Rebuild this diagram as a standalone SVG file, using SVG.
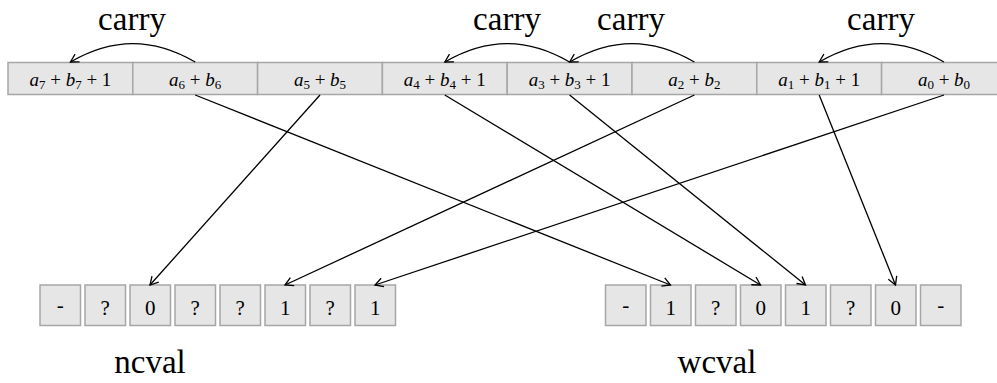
<svg xmlns="http://www.w3.org/2000/svg" width="997" height="383" viewBox="0 0 997 383">
<style>
.cell{fill:#e6e6e6;stroke:#a6a6a6;stroke-width:1.5}
text{font-family:"Liberation Serif","DejaVu Serif","Noto Serif",serif;fill:#000}
.m{font-size:19px;text-anchor:middle}
.i{font-style:italic}
.s{font-size:13px}
.big{font-size:33px;text-anchor:middle}
.bx{font-size:21px;text-anchor:middle}
.c{fill:none;stroke:#000;stroke-width:1.3}
</style>
<defs>
<marker id="ar" markerUnits="userSpaceOnUse" markerWidth="20" markerHeight="20" refX="0" refY="0" viewBox="-10 -10 20 20" orient="auto">
<path d="M-8,-4.5 L0,0 L-8,4.5" fill="none" stroke="#000" stroke-width="1.3"/>
</marker>
</defs>
<g id="labels">
<text class="big" x="132" y="30">carry</text>
<text class="big" x="507" y="30">carry</text>
<text class="big" x="631" y="30">carry</text>
<text class="big" x="881" y="30">carry</text>
<text class="big" x="150" y="373">ncval</text>
<text class="big" x="717" y="373">wcval</text>
</g>
<g id="row">
<g id="s7"><rect class="cell" x="8" y="62.5" width="124.8" height="32"/><text class="m" x="70.4" y="86"><tspan class="i">a</tspan><tspan class="s" dy="3">7</tspan><tspan dy="-3"> + </tspan><tspan class="i">b</tspan><tspan class="s" dy="3">7</tspan><tspan dy="-3"> + 1</tspan></text></g>
<g id="s6"><rect class="cell" x="132.8" y="62.5" width="124.8" height="32"/><text class="m" x="195.2" y="86"><tspan class="i">a</tspan><tspan class="s" dy="3">6</tspan><tspan dy="-3"> + </tspan><tspan class="i">b</tspan><tspan class="s" dy="3">6</tspan></text></g>
<g id="s5"><rect class="cell" x="257.6" y="62.5" width="124.8" height="32"/><text class="m" x="320" y="86"><tspan class="i">a</tspan><tspan class="s" dy="3">5</tspan><tspan dy="-3"> + </tspan><tspan class="i">b</tspan><tspan class="s" dy="3">5</tspan></text></g>
<g id="s4"><rect class="cell" x="382.4" y="62.5" width="124.8" height="32"/><text class="m" x="444.8" y="86"><tspan class="i">a</tspan><tspan class="s" dy="3">4</tspan><tspan dy="-3"> + </tspan><tspan class="i">b</tspan><tspan class="s" dy="3">4</tspan><tspan dy="-3"> + 1</tspan></text></g>
<g id="s3"><rect class="cell" x="507.2" y="62.5" width="124.8" height="32"/><text class="m" x="569.6" y="86"><tspan class="i">a</tspan><tspan class="s" dy="3">3</tspan><tspan dy="-3"> + </tspan><tspan class="i">b</tspan><tspan class="s" dy="3">3</tspan><tspan dy="-3"> + 1</tspan></text></g>
<g id="s2"><rect class="cell" x="632" y="62.5" width="124.8" height="32"/><text class="m" x="694.4" y="86"><tspan class="i">a</tspan><tspan class="s" dy="3">2</tspan><tspan dy="-3"> + </tspan><tspan class="i">b</tspan><tspan class="s" dy="3">2</tspan></text></g>
<g id="s1"><rect class="cell" x="756.8" y="62.5" width="124.8" height="32"/><text class="m" x="819.2" y="86"><tspan class="i">a</tspan><tspan class="s" dy="3">1</tspan><tspan dy="-3"> + </tspan><tspan class="i">b</tspan><tspan class="s" dy="3">1</tspan><tspan dy="-3"> + 1</tspan></text></g>
<g id="s0"><rect class="cell" x="881.6" y="62.5" width="124.8" height="32"/><text class="m" x="944" y="86"><tspan class="i">a</tspan><tspan class="s" dy="3">0</tspan><tspan dy="-3"> + </tspan><tspan class="i">b</tspan><tspan class="s" dy="3">0</tspan></text></g>
</g>
<g id="ncval">
<g id="n0"><rect class="cell" x="40" y="285" width="40.5" height="40.5"/><text class="bx" x="60.2" y="312">-</text></g>
<g id="n1"><rect class="cell" x="85" y="285" width="40.5" height="40.5"/><text class="bx" x="105.2" y="315">?</text></g>
<g id="n2"><rect class="cell" x="130" y="285" width="40.5" height="40.5"/><text class="bx" x="150.2" y="315">0</text></g>
<g id="n3"><rect class="cell" x="175" y="285" width="40.5" height="40.5"/><text class="bx" x="195.2" y="315">?</text></g>
<g id="n4"><rect class="cell" x="220" y="285" width="40.5" height="40.5"/><text class="bx" x="240.2" y="315">?</text></g>
<g id="n5"><rect class="cell" x="265" y="285" width="40.5" height="40.5"/><text class="bx" x="285.2" y="315">1</text></g>
<g id="n6"><rect class="cell" x="310" y="285" width="40.5" height="40.5"/><text class="bx" x="330.2" y="315">?</text></g>
<g id="n7"><rect class="cell" x="355" y="285" width="40.5" height="40.5"/><text class="bx" x="375.2" y="315">1</text></g>
</g>
<g id="wcval">
<g id="w0"><rect class="cell" x="605.5" y="285" width="40.5" height="40.5"/><text class="bx" x="625.7" y="312">-</text></g>
<g id="w1"><rect class="cell" x="650.5" y="285" width="40.5" height="40.5"/><text class="bx" x="670.7" y="315">1</text></g>
<g id="w2"><rect class="cell" x="695.5" y="285" width="40.5" height="40.5"/><text class="bx" x="715.7" y="315">?</text></g>
<g id="w3"><rect class="cell" x="740.5" y="285" width="40.5" height="40.5"/><text class="bx" x="760.7" y="315">0</text></g>
<g id="w4"><rect class="cell" x="785.5" y="285" width="40.5" height="40.5"/><text class="bx" x="805.7" y="315">1</text></g>
<g id="w5"><rect class="cell" x="830.5" y="285" width="40.5" height="40.5"/><text class="bx" x="850.7" y="315">?</text></g>
<g id="w6"><rect class="cell" x="875.5" y="285" width="40.5" height="40.5"/><text class="bx" x="895.7" y="315">0</text></g>
<g id="w7"><rect class="cell" x="920.5" y="285" width="40.5" height="40.5"/><text class="bx" x="940.7" y="312">-</text></g>
</g>
<g id="connectors" class="c">
<path class="c" d="M195.2,62 C152.8,37.5 112.8,37.5 70.4,62" marker-end="url(#ar)"/>
<path class="c" d="M569.6,62 C527.2,37.5 487.2,37.5 444.8,62" marker-end="url(#ar)"/>
<path class="c" d="M694.4,62 C652,37.5 612,37.5 569.6,62" marker-end="url(#ar)"/>
<path class="c" d="M944,62 C901.6,37.5 861.6,37.5 819.2,62" marker-end="url(#ar)"/>
<line class="c" x1="195.2" y1="95" x2="670.5" y2="285" marker-end="url(#ar)"/>
<line class="c" x1="320" y1="95" x2="150" y2="285" marker-end="url(#ar)"/>
<line class="c" x1="444.8" y1="95" x2="760.5" y2="285" marker-end="url(#ar)"/>
<line class="c" x1="569.6" y1="95" x2="805.5" y2="285" marker-end="url(#ar)"/>
<line class="c" x1="694.4" y1="95" x2="285" y2="285" marker-end="url(#ar)"/>
<line class="c" x1="819.2" y1="95" x2="895.5" y2="285" marker-end="url(#ar)"/>
<line class="c" x1="944" y1="95" x2="375" y2="285" marker-end="url(#ar)"/>
</g>
</svg>
